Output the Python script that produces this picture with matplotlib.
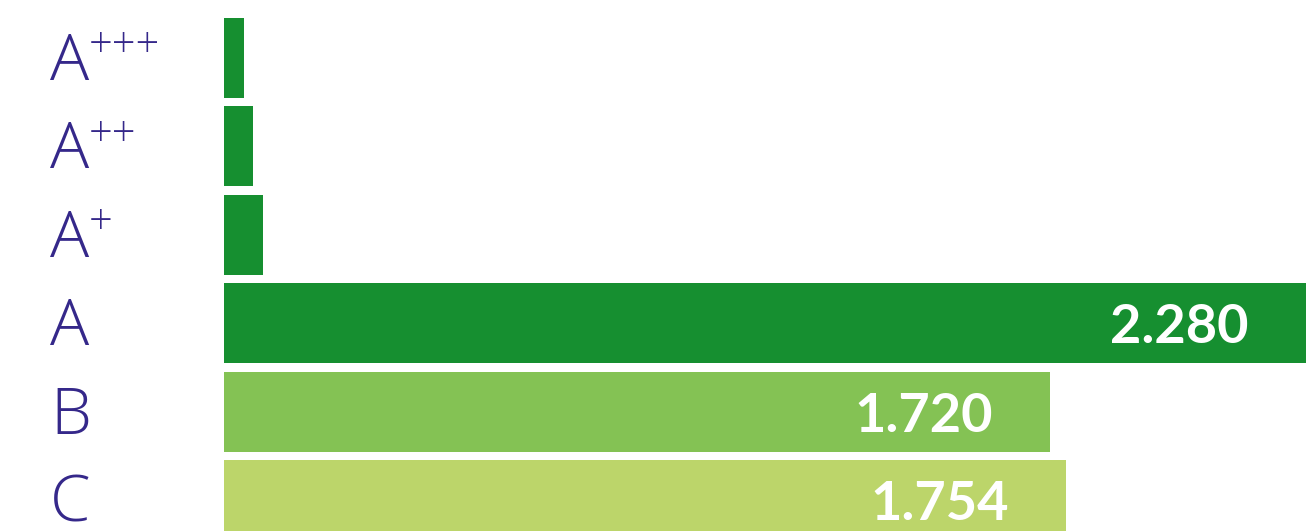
import matplotlib
matplotlib.use("Agg")
import matplotlib.pyplot as plt
from matplotlib.transforms import blended_transform_factory, offset_copy

categories = ["A", "A", "A", "A", "B", "C"]
superscripts = ["+++", "++", "+", "", "", ""]
values = [42, 60, 81, 2280, 1720, 1754]
value_labels = ["", "", "", "2.280", "1.720", "1.754"]
colors = ["#168f30", "#168f30", "#168f30", "#168f30", "#84c254", "#bcd56a"]

W, H = 1306, 531
fig = plt.figure(figsize=(W / 100, H / 100), dpi=100)
ax = fig.add_axes([224 / W, 0, 1 - 224 / W, 1])
ax.set_axis_off()

ypos = list(range(len(categories)))
ax.barh(ypos, values, height=0.905, color=colors)
ax.set_xlim(0, 2254)
ax.set_ylim(5.351, -0.656)

label_color = "#35288a"
lab_font = ["Open Sans", "DejaVu Sans"]
trans = blended_transform_factory(fig.transFigure, ax.transData)
t_base = offset_copy(trans, fig=fig, x=0, y=-22, units="dots")
t_sup = offset_copy(trans, fig=fig, x=0, y=12, units="dots")
for i, (cat, sup) in enumerate(zip(categories, superscripts)):
    ax.text(50 / W, i, cat, transform=t_base, ha="left", va="baseline",
            fontsize=47, fontweight=300, family=lab_font,
            color=label_color)
    if sup:
        ax.text(89 / W, i, sup, transform=t_sup, ha="left", va="center",
                fontsize=30, fontweight=300, family=lab_font,
                color=label_color)

xmax = ax.get_xlim()[1]
for i, (v, lab) in enumerate(zip(values, value_labels)):
    if lab:
        x = min(v, xmax)
        t3 = offset_copy(ax.transData, fig=fig, x=-57, y=0, units="dots")
        ax.text(x, i, lab, transform=t3, ha="right", va="center_baseline",
                fontsize=39, fontweight="bold", family=["Lato", "DejaVu Sans"],
                color="white")

fig.savefig("out.png", dpi=100)
